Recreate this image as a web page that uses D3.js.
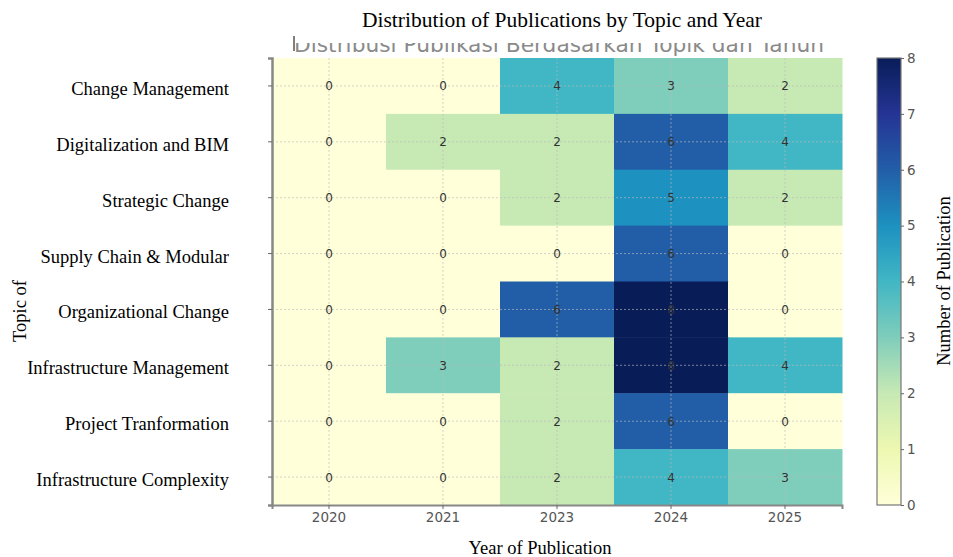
<!DOCTYPE html>
<html><head><meta charset="utf-8">
<script src="https://cdn.jsdelivr.net/npm/d3@7"></script>
<style>body{margin:0;background:#fff}svg{display:block}</style>
</head><body>
<script>
const years = ["2020","2021","2023","2024","2025"];
const topics = ["Change Management","Digitalization and BIM","Strategic Change","Supply Chain & Modular","Organizational Change","Infrastructure Management","Project Tranformation","Infrastructure Complexity"];
const counts = [
  [0,0,4,3,2],
  [0,2,2,6,4],
  [0,0,2,5,2],
  [0,0,0,6,0],
  [0,0,6,8,0],
  [0,3,2,8,4],
  [0,0,2,6,0],
  [0,0,2,4,3]
];
const colorTicks = [0,1,2,3,4,5,6,7,8];

const W=953,H=557;
const svg=d3.select("body").append("svg").attr("width",W).attr("height",H);
const L=272,R=842,T=58,B=505;
const x=d3.scaleBand().domain(years).range([L,R]);
const y=d3.scaleBand().domain(topics).range([T,B]);
const pal=d3.schemeYlGnBu[9];
const color=d3.scaleLinear().domain(d3.range(9)).range(pal);

// ghost title (partially hidden)
svg.append("text").attr("x",559).attr("y",52).attr("text-anchor","middle")
  .attr("font-family","DejaVu Sans").attr("font-size",21).attr("textLength",530).attr("lengthAdjust","spacingAndGlyphs")
  .attr("fill","#8a8a8a")
  .text("Distribusi Publikasi Berdasarkan Topik dan Tahun");
svg.append("rect").attr("x",280).attr("y",30).attr("width",570).attr("height",13).attr("fill","#fff");
svg.append("line").attr("x1",294).attr("x2",294).attr("y1",36).attr("y2",51).attr("stroke","#555").attr("stroke-width",1.5);

svg.append("text").attr("x",562).attr("y",27).attr("text-anchor","middle")
  .attr("font-family","Liberation Serif").attr("font-size",21.5).attr("fill","#000")
  .text("Distribution of Publications by Topic and Year");

const cells=[];
counts.forEach((row,i)=>row.forEach((v,j)=>cells.push({t:topics[i],yr:years[j],v})));
svg.append("g").selectAll("rect").data(cells).join("rect")
  .attr("x",d=>x(d.yr)).attr("y",d=>y(d.t))
  .attr("width",x.bandwidth()+0.5).attr("height",y.bandwidth()+0.5)
  .attr("fill",d=>color(d.v));

// grid
const g=svg.append("g").attr("stroke","#bbb").attr("stroke-dasharray","2,2").attr("stroke-width",0.8).attr("opacity",0.8);
years.forEach(yr=>g.append("line").attr("x1",x(yr)+x.bandwidth()/2).attr("x2",x(yr)+x.bandwidth()/2).attr("y1",T).attr("y2",B));
topics.forEach(t=>g.append("line").attr("x1",L).attr("x2",R).attr("y1",y(t)+y.bandwidth()/2).attr("y2",y(t)+y.bandwidth()/2));

svg.append("g").selectAll("text").data(cells).join("text")
  .attr("x",d=>x(d.yr)+x.bandwidth()/2).attr("y",d=>y(d.t)+y.bandwidth()/2+4.5)
  .attr("text-anchor","middle").attr("font-family","DejaVu Sans").attr("font-size",12)
  .attr("fill","#333").text(d=>d.v);

// axes
const ax=svg.append("g").attr("transform",`translate(0,${B})`).call(d3.axisBottom(x).tickSize(4).tickPadding(3));
ax.select(".domain").attr("stroke","#888").attr("stroke-width",2);
ax.selectAll(".tick line").attr("stroke","#666");
ax.selectAll("text").attr("font-family","DejaVu Sans").attr("font-size",13.5).attr("fill","#555");
const ay=svg.append("g").attr("transform",`translate(${L},0)`).call(d3.axisLeft(y).tickSize(4).tickFormat(""));
ay.select(".domain").attr("stroke","#888").attr("stroke-width",2.5);
ay.selectAll(".tick line").attr("stroke","#666");

svg.append("g").selectAll("text").data(topics).join("text")
  .attr("x",229).attr("y",d=>y(d)+y.bandwidth()/2+9)
  .attr("text-anchor","end").attr("font-family","Liberation Serif").attr("font-size",18.5).attr("fill","#000")
  .text(d=>d);

svg.append("text").attr("transform","translate(26,311) rotate(-90)").attr("text-anchor","middle")
  .attr("font-family","Liberation Serif").attr("font-size",18.5).text("Topic of");

svg.append("text").attr("x",540).attr("y",554).attr("text-anchor","middle")
  .attr("font-family","Liberation Serif").attr("font-size",18.5).text("Year of Publication");

// colorbar
const cbx=877,cbw=24;
const defs=svg.append("defs");
const grad=defs.append("linearGradient").attr("id","cb").attr("x1",0).attr("x2",0).attr("y1",1).attr("y2",0);
colorTicks.forEach(v=>grad.append("stop").attr("offset",v/8).attr("stop-color",color(v)));
svg.append("rect").attr("x",cbx).attr("y",T).attr("width",cbw).attr("height",B-T).attr("fill","url(#cb)")
  .attr("stroke","#777").attr("stroke-width",1.2);
const cs=d3.scaleLinear().domain([0,8]).range([B,T]);
const ac=svg.append("g").attr("transform",`translate(${cbx+cbw},0)`).call(d3.axisRight(cs).tickValues(colorTicks).tickSize(3).tickPadding(3));
ac.select(".domain").remove();
ac.selectAll(".tick line").attr("stroke","#666");
ac.selectAll("text").attr("font-family","DejaVu Sans").attr("font-size",13.5).attr("fill","#555");

svg.append("text").attr("transform","translate(950,281) rotate(-90)").attr("text-anchor","middle")
  .attr("font-family","Liberation Serif").attr("font-size",18.5).text("Number of Publication");
</script>
</body></html>
